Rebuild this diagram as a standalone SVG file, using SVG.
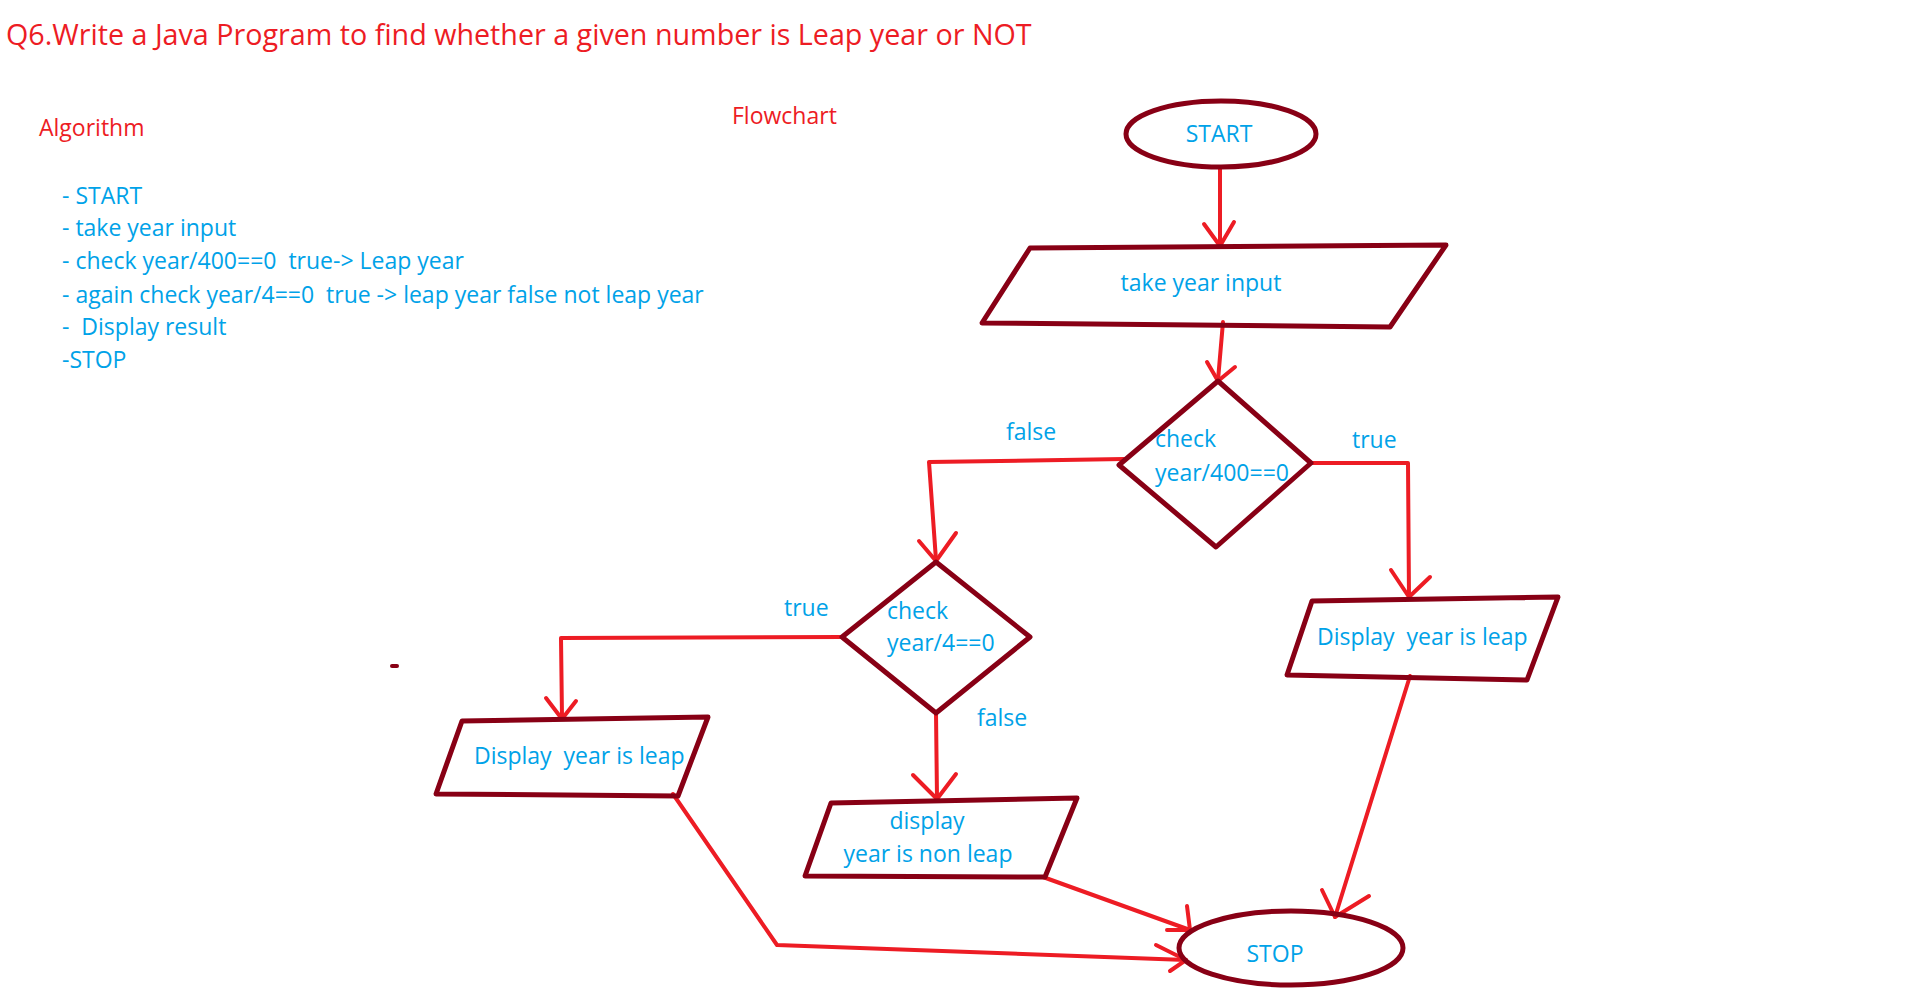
<svg xmlns="http://www.w3.org/2000/svg" width="1911" height="994" viewBox="0 0 1911 994">
<style>
  text { white-space: pre; }
  .red { fill: #ED1C24; font-family: "Open Sans", "Liberation Sans", sans-serif; font-size: 23px; }
  .title { font-size: 28.7px; }
  .blue { fill: #00A2E8; font-family: "Open Sans", "Liberation Sans", sans-serif; font-size: 23px; }
  .shape { fill: none; stroke: #880015; stroke-width: 5; stroke-linejoin: round; stroke-linecap: round; }
  .conn { fill: none; stroke: #ED1C24; stroke-width: 4; stroke-linejoin: round; stroke-linecap: round; }
  .mid { text-anchor: middle; }
</style>
<rect width="1911" height="994" fill="#FFFFFF"/>

<text class="red title" x="6" y="45">Q6.Write a Java Program to find whether a given number is Leap year or NOT</text>
<text class="red" x="39" y="136">Algorithm</text>
<text class="red" x="732" y="124">Flowchart</text>

<g id="algorithm">
  <text class="blue" x="62" y="204">- START</text>
  <text class="blue" x="62" y="236">- take year input</text>
  <text class="blue" x="62" y="269">- check year/400==0 &#160;true-&gt; Leap year</text>
  <text class="blue" x="62" y="303">- again check year/4==0 &#160;true -&gt; leap year false not leap year</text>
  <text class="blue" x="62" y="335">- &#160;Display result</text>
  <text class="blue" x="62" y="368">-STOP</text>
</g>

<rect x="390" y="664" width="9" height="4" rx="2" fill="#880015"/>

<g id="connectors">
  <path class="conn" d="M1220,169 L1220,246"/>
  <polyline class="conn" points="1204,224 1220,246 1234,222"/>

  <path class="conn" d="M1223,322 L1218,380"/>
  <polyline class="conn" points="1207,362 1218,381 1235,367"/>

  <path class="conn" d="M1124,459 L929,462 L936,560"/>
  <polyline class="conn" points="919,541 936,561 956,533"/>

  <path class="conn" d="M1311,463 L1408,463 L1409,597"/>
  <polyline class="conn" points="1391,570 1409,597 1430,577"/>

  <path class="conn" d="M1410,676 L1335,917"/>
  <polyline class="conn" points="1322,890 1335,917 1369,896"/>

  <path class="conn" d="M842,637 L561,638 L562,718"/>
  <polyline class="conn" points="546,698 562,719 576,701"/>

  <path class="conn" d="M936,713 L937,798"/>
  <polyline class="conn" points="913,775 937,799 956,774"/>

  <path class="conn" d="M1043,877 L1190,930"/>
  <polyline class="conn" points="1187,906 1190,930 1167,930"/>

  <path class="conn" d="M673,794 L777,945 L1186,960"/>
  <polyline class="conn" points="1156,945 1186,960 1170,971"/>

  <text class="blue" x="1006" y="440">false</text>
  <text class="blue" x="1352" y="448">true</text>
  <text class="blue" x="784" y="616">true</text>
  <text class="blue" x="977" y="726">false</text>
</g>

<g id="start">
  <ellipse class="shape" cx="1221" cy="134" rx="95" ry="33"/>
  <text class="blue mid" x="1219" y="142">START</text>
</g>

<g id="input">
  <polygon class="shape" points="1030,248 1446,245 1390,327 982,323"/>
  <text class="blue mid" x="1201" y="291">take year input</text>
</g>

<g id="check400">
  <polygon class="shape" points="1218,381 1311,463 1216,547 1119,465"/>
  <text class="blue" x="1155" y="447">check</text>
  <text class="blue" x="1155" y="481">year/400==0</text>
</g>

<g id="leapRight">
  <polygon class="shape" points="1312,601 1558,597 1527,680 1287,675"/>
  <text class="blue" x="1317" y="645">Display &#160;year is leap</text>
</g>

<g id="check4">
  <polygon class="shape" points="936,562 1030,637 936,713 842,637"/>
  <text class="blue" x="887" y="619">check</text>
  <text class="blue" x="887" y="651">year/4==0</text>
</g>

<g id="leapLeft">
  <polygon class="shape" points="462,721 708,717 678,796 436,794"/>
  <text class="blue" x="474" y="764">Display &#160;year is leap</text>
</g>

<g id="nonLeap">
  <polygon class="shape" points="831,803 1077,798 1045,877 805,876"/>
  <text class="blue mid" x="927" y="829">display</text>
  <text class="blue mid" x="928" y="862">year is non leap</text>
</g>

<g id="stop">
  <ellipse class="shape" cx="1291" cy="948" rx="112" ry="37"/>
  <text class="blue mid" x="1275" y="962">STOP</text>
</g>
</svg>
